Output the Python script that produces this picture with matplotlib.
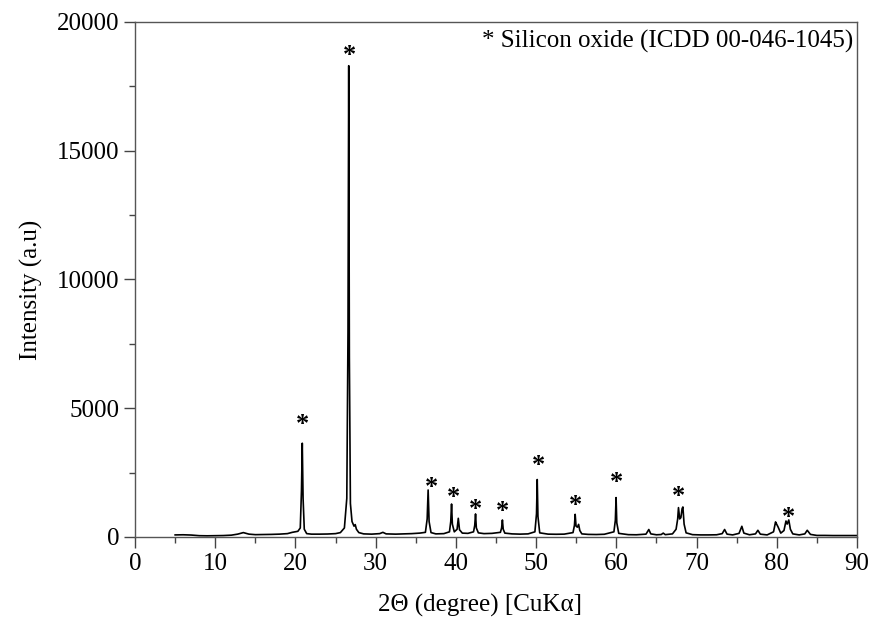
""" XRD pattern of the sample, quartz reflections marked """

import matplotlib
matplotlib.use("Agg")
import matplotlib.pyplot as plt
from matplotlib.ticker import MultipleLocator
import numpy as np

plt.rcParams["font.family"] = ["Liberation Serif", "DejaVu Serif"]

# 2theta (deg) and intensity, region by region
two_theta = [
    5.0, 6, 7, 8, 9, 10, 11, 12, 12.8, 13.5, 14.2, 15, 16, 17, 18, 19, 19.6, 20.3,
    20.6, 20.75, 20.85, 20.95, 21.1, 21.4,
    22, 23, 24, 25, 25.6, 26.1, 26.4,
    26.55, 26.64, 26.72, 26.85, 27.05, 27.3, 27.45, 27.6, 27.9,
    28.5, 29.5, 30.5, 30.9, 31.3, 32.5, 33.5, 34.5, 35.5, 36.2,
    36.42, 36.54, 36.66, 36.9, 37.5, 38.5, 39.2,
    39.36, 39.46, 39.56, 39.8, 40.15, 40.3, 40.45, 40.8, 41.5, 42.2,
    42.35, 42.45, 42.55, 42.8, 43.5, 44.5, 45.55,
    45.7, 45.8, 45.9, 46.1, 47, 48, 49, 49.85,
    50.05, 50.14, 50.23, 50.45, 51.5, 52.5, 53.5, 54.6,
    54.78, 54.87, 54.98, 55.15, 55.3, 55.45, 55.7, 56.5, 57.5, 58.5, 59.7,
    59.88, 59.97, 60.06, 60.3, 61.5, 62.5, 63.7,
    64.05, 64.3, 65.0, 65.6, 65.85, 66.1, 67.0, 67.45,
    67.65, 67.75, 67.9, 68.05, 68.2, 68.3, 68.45, 68.7, 69.5,
    70.5, 71.5, 72.5, 73.2, 73.5, 73.8, 74.5, 75.3, 75.65, 75.9, 76.6, 77.35, 77.65, 77.95, 78.8, 79.6,
    79.85, 79.95, 80.15, 80.5, 80.9, 81.15, 81.3, 81.5, 81.7, 82.0, 82.8, 83.5, 83.8, 84.2, 85, 86, 87, 88, 89, 90,
]
intensity = [
    80, 85, 75, 50, 45, 50, 55, 70, 110, 170, 110, 90, 95, 100, 110, 130, 180, 220,
    350, 1800, 3640, 1500, 300, 130,
    110, 110, 115, 130, 170, 350, 1500,
    8000, 18300, 7000, 1300, 600, 420, 480, 300, 170,
    120, 110, 130, 180, 120, 110, 120, 130, 150, 180,
    700, 1825, 600, 170, 120, 130, 200,
    600, 1280, 500, 200, 300, 725, 280, 150, 140, 200,
    450, 895, 350, 160, 130, 140, 180,
    350, 660, 300, 150, 120, 110, 120, 200,
    900, 2230, 800, 160, 110, 105, 110, 170,
    450, 880, 420, 380, 490, 250, 120, 100, 95, 105, 200,
    650, 1530, 550, 140, 90, 85, 110,
    290, 120, 85, 95, 150, 90, 120, 300,
    700, 1140, 700, 750, 1100, 1165, 500, 160, 90,
    80, 80, 85, 130, 290, 110, 80, 140, 415, 150, 85, 120, 260, 110, 80, 200,
    585, 520, 400, 150, 250, 620, 500, 660, 300, 120, 80, 120, 260, 100, 60, 60, 55, 55, 55, 55,
]

# positions of the * markers (silicon oxide reflections)
star_x = [20.85, 26.8, 37.0, 39.7, 42.4, 45.8, 50.3, 54.9, 60.0, 67.8, 81.5]
star_y = [4570, 18900, 2150, 1735, 1270, 1215, 2990, 1440, 2320, 1800, 980]

fig = plt.figure(figsize=(8.74, 6.22), dpi=100)
ax = fig.add_axes([0.1545, 0.1367, 0.826, 0.828])

ax.plot(two_theta, intensity, color="k", lw=1.2)

for sx, sy in zip(star_x, star_y):
    ax.annotate("*", (sx, sy), xytext=(0, -4), textcoords="offset points",
                fontsize=19, fontweight="bold", ha="center", va="center")

ax.text(0.995, 0.962, "* Silicon oxide (ICDD 00-046-1045)", transform=ax.transAxes,
        fontsize=18, ha="right", va="center")

ax.set_xlim(0, 90)
ax.set_ylim(0, 20000)
ax.xaxis.set_major_locator(MultipleLocator(10))
ax.xaxis.set_minor_locator(MultipleLocator(5))
ax.yaxis.set_major_locator(MultipleLocator(5000))
ax.yaxis.set_minor_locator(MultipleLocator(2500))
ax.tick_params(which="both", direction="out", color="#444444", labelsize=18)
ax.tick_params(which="major", length=8, width=1)
ax.tick_params(which="minor", length=4, width=1)
for sp in ax.spines.values():
    sp.set_color("#555555")
    sp.set_linewidth(1)

ax.set_xlabel("2\u0398 (degree) [CuK\u03b1]", fontsize=18)
ax.xaxis.set_label_coords(0.478, -0.11)
ax.set_ylabel("Intensity (a.u)", fontsize=18)
ax.yaxis.set_label_coords(-0.128, 0.48)

fig.savefig("out.png", dpi=100)
